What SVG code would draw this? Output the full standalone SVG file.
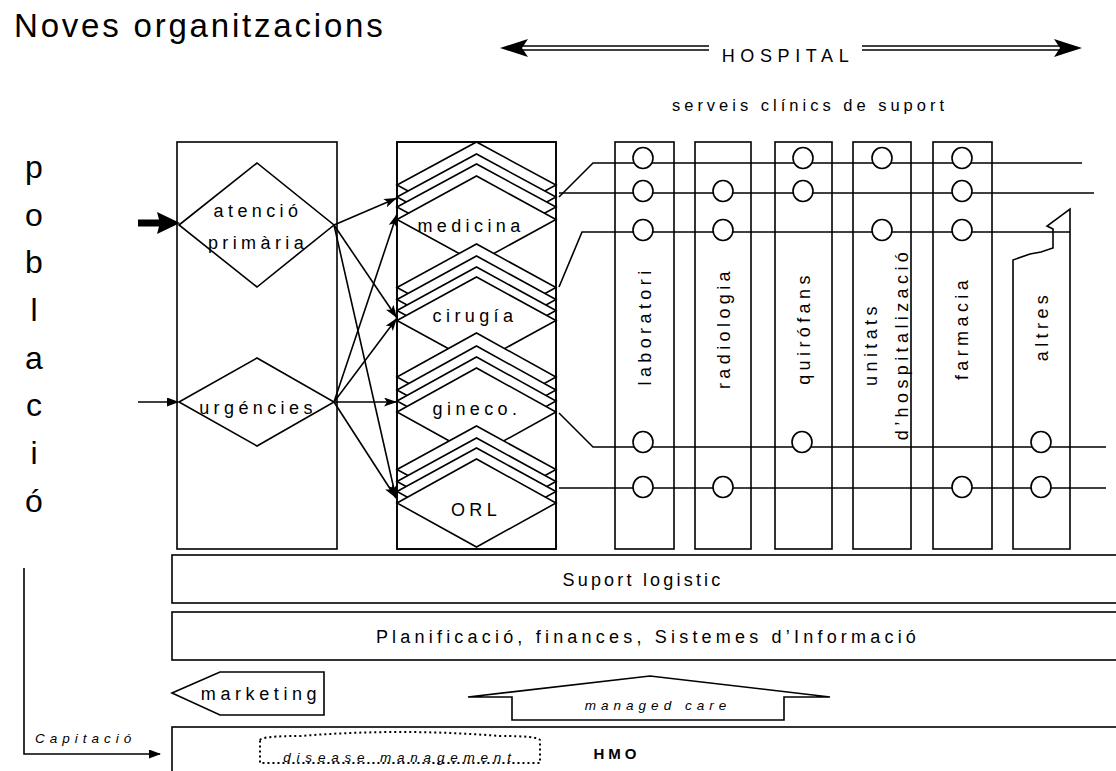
<svg xmlns="http://www.w3.org/2000/svg" width="1116" height="771" viewBox="0 0 1116 771">
  <style>
    text { font-family: "Liberation Sans", Arial, sans-serif; fill: #000; }
    .ln { fill: none; stroke: #000; stroke-width: 1.6; }
    .box { fill: #fff; stroke: #000; stroke-width: 1.6; }
    .lbl { font-size: 18px; letter-spacing: 4.4px; text-anchor: middle; }
    .small { font-size: 13.5px; font-style: italic; letter-spacing: 5px; }
    .big { font-size: 32px; text-anchor: middle; }
    .node { fill: #fff; stroke: #000; stroke-width: 1.6; }
  </style>
  <defs>
    <marker id="ah" markerWidth="13" markerHeight="9" refX="13" refY="4.5" orient="auto" markerUnits="userSpaceOnUse">
      <path d="M0,0 L13,4.5 L0,9 L3,4.5 z" fill="#000"/>
    </marker>
    <marker id="ahs" markerWidth="12" markerHeight="9" refX="11" refY="4.5" orient="auto" markerUnits="userSpaceOnUse">
      <path d="M0,0 L12,4.5 L0,9 z" fill="#000"/>
    </marker>
  </defs>
  <rect width="1116" height="771" fill="#fff"/>

  <!-- title -->
  <text x="14" y="37" style="font-size:33px;letter-spacing:2.8px">Noves organitzacions</text>

  <!-- HOSPITAL span arrow -->
  <g id="hospital">
    <line class="ln" x1="518" y1="46" x2="709" y2="46" stroke-width="1.4"/>
    <line class="ln" x1="518" y1="50" x2="709" y2="50" stroke-width="1.4"/>
    <line class="ln" x1="862" y1="46" x2="1064" y2="46" stroke-width="1.4"/>
    <line class="ln" x1="862" y1="50" x2="1064" y2="50" stroke-width="1.4"/>
    <path d="M500,48 L528,39 L522,48 L528,57 z" fill="#000"/>
    <path d="M1082,48 L1054,39 L1060,48 L1054,57 z" fill="#000"/>
    <text x="788" y="62" style="font-size:18px;letter-spacing:5.6px" text-anchor="middle">HOSPITAL</text>
  </g>
  <text x="810" y="111" style="font-size:16.5px;letter-spacing:4px" text-anchor="middle">serveis clínics de suport</text>

  <!-- població (vertical) -->
  <g id="poblacio">
    <text class="big" x="34" y="178">p</text>
    <text class="big" x="34" y="226">o</text>
    <text class="big" x="34" y="273">b</text>
    <text class="big" x="34" y="321">l</text>
    <text class="big" x="34" y="369">a</text>
    <text class="big" x="34" y="416">c</text>
    <text class="big" x="34" y="464">i</text>
    <text class="big" x="34" y="512">ó</text>
  </g>

  <!-- primary access column -->
  <g id="access">
    <rect class="box" x="177" y="142" width="160" height="407"/>
    <g id="atencio-primaria">
      <polygon class="node" points="179,225 257,163 334,225 257,287"/>
      <text class="lbl" x="258" y="217">atenció</text>
      <text class="lbl" x="258" y="249">primària</text>
    </g>
    <g id="urgencies">
      <polygon class="node" points="179,402 257,358 334,402 257,446"/>
      <text class="lbl" x="258" y="414">urgéncies</text>
    </g>
  </g>

  <!-- specialties column -->
  <g id="specialties">
    <rect class="box" x="397" y="142" width="159" height="407"/>
    <g id="medicina">
      <polygon class="node" points="397,185 476.5,142 556,185 476.5,228"/>
      <polygon class="node" points="397,197 476.5,154 556,197 476.5,240"/>
      <polygon class="node" points="397,207 476.5,164 556,207 476.5,250"/>
      <polygon class="node" points="397,219.5 476.5,176 556,219.5 476.5,263"/>
      <text class="lbl" x="471" y="232">medicina</text>
    </g>
    <g id="cirugia">
      <polygon class="node" points="397,287.5 476.5,244 556,287.5 476.5,331"/>
      <polygon class="node" points="397,299.5 476.5,256 556,299.5 476.5,343"/>
      <polygon class="node" points="397,310.5 476.5,267 556,310.5 476.5,354"/>
      <polygon class="node" points="397,320.5 476.5,277 556,320.5 476.5,364"/>
      <text class="lbl" x="475" y="322">cirugía</text>
    </g>
    <g id="gineco">
      <polygon class="node" points="397,377 476.5,333 556,377 476.5,421"/>
      <polygon class="node" points="397,390 476.5,346 556,390 476.5,434"/>
      <polygon class="node" points="397,401 476.5,357 556,401 476.5,445"/>
      <polygon class="node" points="397,412 476.5,368 556,412 476.5,456"/>
      <text class="lbl" x="477" y="415">gineco.</text>
    </g>
    <g id="orl">
      <polygon class="node" points="397,469.5 476.5,426 556,469.5 476.5,513"/>
      <polygon class="node" points="397,481.5 476.5,438 556,481.5 476.5,525"/>
      <polygon class="node" points="397,491.5 476.5,448 556,491.5 476.5,535"/>
      <polygon class="node" points="397,503 476.5,459 556,503 476.5,547"/>
      <text class="lbl" x="476" y="516">ORL</text>
    </g>
    <rect x="397" y="142" width="159" height="407" fill="none" stroke="#000" stroke-width="1.6"/>
  </g>

  <!-- clinical support service columns -->
  <g id="services">
    <g id="laboratori">
      <rect class="box" x="615" y="142" width="59" height="407"/>
      <text class="lbl" transform="translate(651,326) rotate(-90)">laboratori</text>
    </g>
    <g id="radiologia">
      <rect class="box" x="695" y="142" width="56" height="407"/>
      <text class="lbl" transform="translate(730,328) rotate(-90)">radiologia</text>
    </g>
    <g id="quirofans">
      <rect class="box" x="775" y="142" width="57" height="407"/>
      <text class="lbl" transform="translate(810,328) rotate(-90)">quirófans</text>
    </g>
    <g id="unitats">
      <rect class="box" x="853" y="142" width="58" height="407"/>
      <text class="lbl" transform="translate(877,344) rotate(-90)">unitats</text>
      <text class="lbl" transform="translate(908,344) rotate(-90)">d’hospitalizació</text>
    </g>
    <g id="farmacia">
      <rect class="box" x="933" y="142" width="59" height="407"/>
      <text class="lbl" transform="translate(968,328) rotate(-90)">farmacia</text>
    </g>
    <g id="altres">
      <path class="box" d="M1013,549 L1013,260 L1030,254 L1041,252 L1053,248 L1053,229 L1047,226 L1070,209 L1070,549 Z"/>
      <text class="lbl" transform="translate(1048,326) rotate(-90)">altres</text>
    </g>
  </g>

  <!-- connectors -->
  <g id="connectors">
    <!-- patient entry -->
    <path d="M138,219.5 L159,219.5 L157,212 L180,223 L157,234 L159,226.5 L138,226.5 Z" fill="#000"/>
    <line class="ln" x1="138" y1="402" x2="178" y2="402" marker-end="url(#ahs)"/>

    <!-- access to specialties -->
    <line class="ln" x1="334" y1="225" x2="397" y2="198" marker-end="url(#ah)"/>
    <line class="ln" x1="334" y1="225" x2="397" y2="318" marker-end="url(#ah)"/>
    <line class="ln" x1="334" y1="225" x2="396" y2="498" marker-end="url(#ah)"/>
    <line class="ln" x1="334" y1="402" x2="397" y2="214" marker-end="url(#ah)"/>
    <line class="ln" x1="334" y1="402" x2="397" y2="318" marker-end="url(#ah)"/>
    <line class="ln" x1="334" y1="402" x2="397" y2="402" marker-end="url(#ah)"/>
    <line class="ln" x1="334" y1="402" x2="396" y2="498" marker-end="url(#ah)"/>

    <!-- service lines -->
    <polyline class="ln" points="559,197 593,163 1082,163"/>
    <polyline class="ln" points="559,193 1094,193"/>
    <polyline class="ln" points="559,287 582,232 1070,232"/>
    <polyline class="ln" points="559,413 593,447 1106,447"/>
    <polyline class="ln" points="559,488 1106,488"/>

    <!-- population capitation flow -->
    <polyline class="ln" points="24,568 24,754 160,754" marker-end="url(#ahs)"/>
  </g>

  <!-- service access points -->
  <g id="nodes" fill="#fff" stroke="#000" stroke-width="1.6">
    <ellipse cx="643" cy="158" rx="10" ry="10.5"/>
    <ellipse cx="803" cy="158" rx="10" ry="10.5"/>
    <ellipse cx="882" cy="158" rx="10" ry="10.5"/>
    <ellipse cx="962" cy="158" rx="10" ry="10.5"/>

    <ellipse cx="643" cy="191" rx="10" ry="10.5"/>
    <ellipse cx="723" cy="191" rx="10" ry="10.5"/>
    <ellipse cx="803" cy="191" rx="10" ry="10.5"/>
    <ellipse cx="962" cy="191" rx="10" ry="10.5"/>

    <ellipse cx="643" cy="230" rx="10" ry="10.5"/>
    <ellipse cx="723" cy="230" rx="10" ry="10.5"/>
    <ellipse cx="882" cy="230" rx="10" ry="10.5"/>
    <ellipse cx="962" cy="230" rx="10" ry="10.5"/>

    <ellipse cx="643" cy="442" rx="10" ry="10.5"/>
    <ellipse cx="802" cy="442" rx="10" ry="10.5"/>
    <ellipse cx="1041" cy="442" rx="10" ry="10.5"/>

    <ellipse cx="643" cy="487" rx="10" ry="10.5"/>
    <ellipse cx="723" cy="487" rx="10" ry="10.5"/>
    <ellipse cx="962" cy="487" rx="10" ry="10.5"/>
    <ellipse cx="1041" cy="487" rx="10" ry="10.5"/>
  </g>

  <!-- horizontal layers -->
  <g id="suport-logistic">
    <rect class="box" x="172" y="555" width="960" height="48"/>
    <text class="lbl" x="643" y="586" style="letter-spacing:3.2px">Suport logistic</text>
  </g>
  <g id="planificacio">
    <rect class="box" x="172" y="612" width="960" height="48"/>
    <text class="lbl" x="648" y="643" style="letter-spacing:4.2px">Planificació, finances, Sistemes d’Informació</text>
  </g>
  <g id="marketing">
    <polygon class="box" points="172,693 220,672 324,672 324,715 220,715"/>
    <text class="lbl" x="261" y="700" style="letter-spacing:4.6px">marketing</text>
  </g>
  <g id="managed-care">
    <polygon class="box" points="468,697 650,676 830,697 784,697 784,720 512,720 512,697"/>
    <text class="small" x="658" y="710" text-anchor="middle">managed care</text>
  </g>
  <g id="hmo">
    <rect class="box" x="172" y="727" width="960" height="60"/>
    <text x="617" y="759" style="font-size:15px;font-weight:bold;letter-spacing:4px" text-anchor="middle">HMO</text>
    <g id="disease-management">
      <path d="M260,740 Q262,736 300,736 Q400,728 500,736 Q538,736 540,740 L540,763 L260,763 Z" fill="none" stroke="#000" stroke-width="2" stroke-dasharray="2 3"/>
      <text class="small" x="400" y="762" text-anchor="middle" style="letter-spacing:5.8px">disease management</text>
    </g>
  </g>
  <text class="small" x="35" y="743">Capitació</text>
</svg>
